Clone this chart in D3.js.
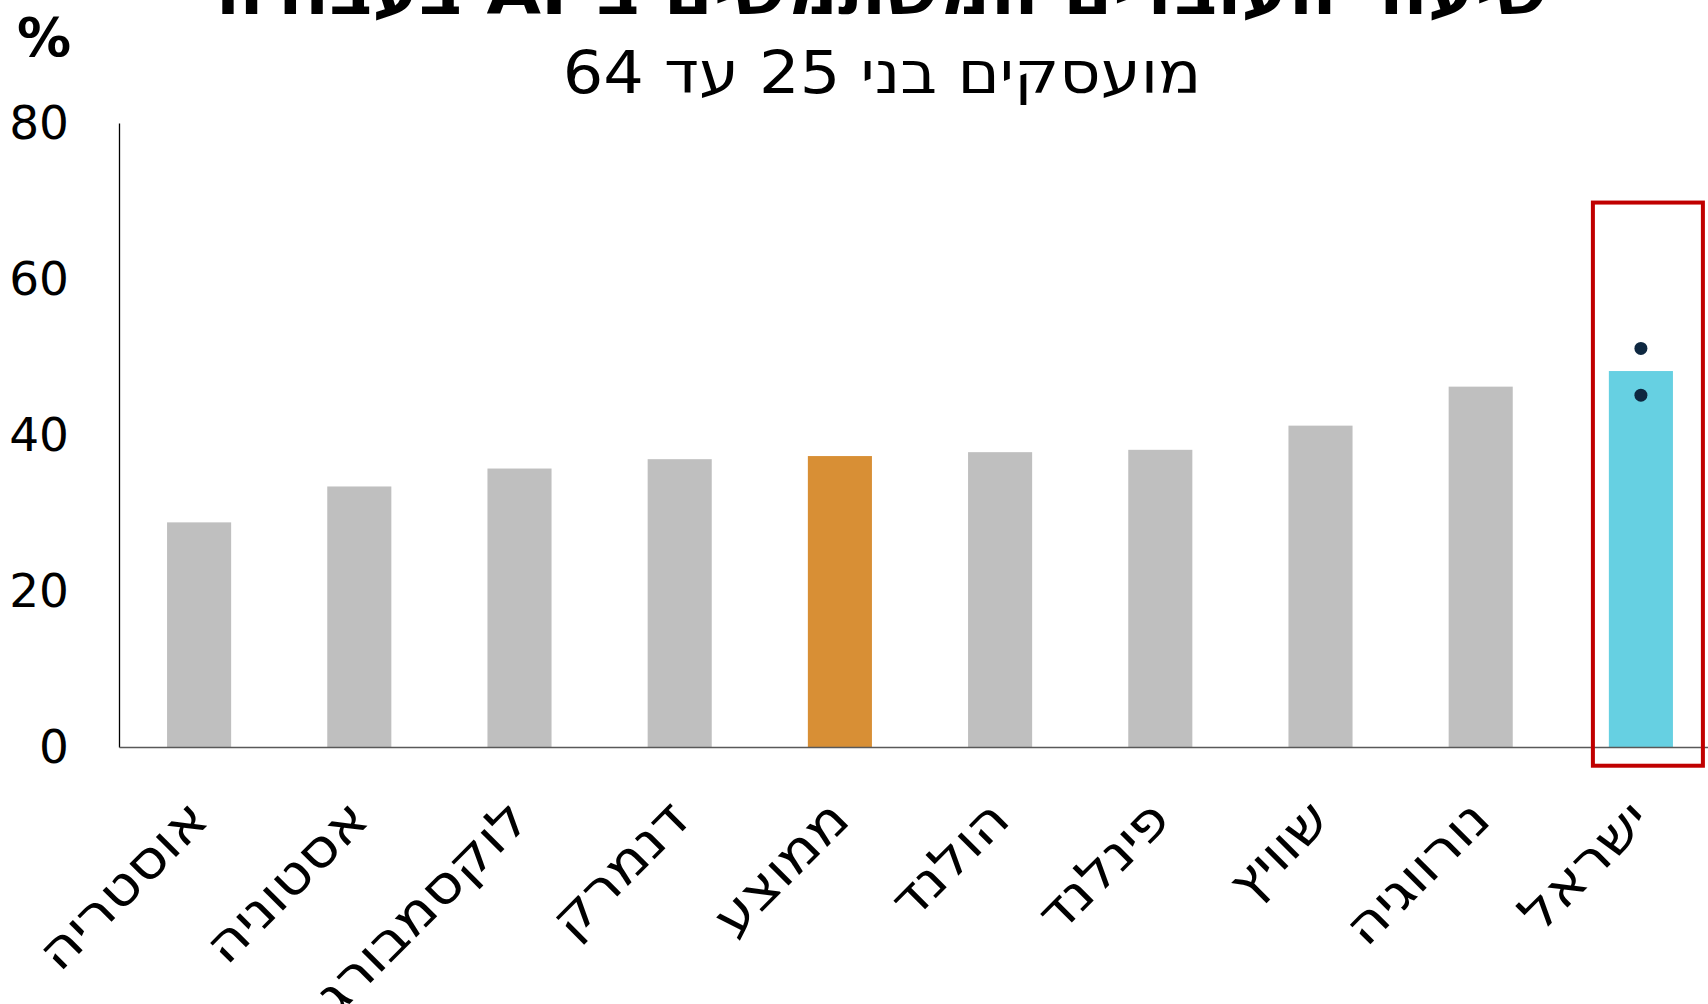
<!DOCTYPE html>
<html lang="he">
<head>
  <meta charset="UTF-8">
  <script src="https://d3js.org/d3.v7.min.js"></script>
  <style>
    body { margin: 0; background: #fff; }
    svg { display: block; font-family: "DejaVu Sans", sans-serif; }
  </style>
</head>
<body>
  <svg width="1708" height="1004"></svg>
  <script>
    // data
    var countries = ["אוסטריה", "אסטוניה", "לוקסמבורג", "דנמרק", "ממוצע", "הולנד", "פינלנד", "שוויץ", "נורווגיה", "ישראל"]
    var values = [28.8, 33.4, 35.7, 36.9, 37.3, 37.8, 38.1, 41.2, 46.2, 48.2]
    var israelDots = [51.1, 45.1]
    var yTicks = [0, 20, 40, 60, 80]

    var svg = d3.select("svg")
    var m = { left: 119, right: 1721, top: 123, bottom: 747 }

    var x = d3.scaleBand()
      .domain(countries)
      .range([m.left, m.right])
      .paddingInner(0.6)
      .paddingOuter(0.3)
    var y = d3.scaleLinear().domain([0, 80]).range([m.bottom, m.top])

    function barColor(d) {
      if (d === "ממוצע") return "#d88f35"
      if (d === "ישראל") return "#66d0e2"
      return "#bfbfbf"
    }

    // bars
    svg.append("g").selectAll("rect")
      .data(countries)
      .enter()
      .append("rect")
      .attr("x", function(d){ return x(d) })
      .attr("width", x.bandwidth())
      .attr("y", function(d, i){ return y(values[i]) })
      .attr("height", function(d, i){ return m.bottom - y(values[i]) })
      .attr("fill", barColor)

    // y axis
    var yAxis = svg.append("g")
      .attr("transform", "translate(" + m.left + ",0)")
      .call(d3.axisLeft(y).tickValues(yTicks).tickSize(0).tickPadding(50))
    yAxis.select(".domain").attr("stroke", "#000").attr("stroke-width", 1.3)
    yAxis.selectAll("text")
      .attr("font-size", 47)
      .attr("font-family", "DejaVu Sans")
      .attr("fill", "#000")

    // x axis
    var xAxis = svg.append("g")
      .attr("transform", "translate(0," + m.bottom + ")")
      .call(d3.axisBottom(x).tickSize(0).tickFormat(""))
    xAxis.select(".domain").attr("stroke", "#595959").attr("stroke-width", 1.5)

    // rotated labels
    svg.append("g").selectAll("text")
      .data(countries)
      .enter()
      .append("text")
      .attr("transform", function(d){
        var cx = x(d) + x.bandwidth() / 2 + 12
        return "translate(" + cx + "," + 822 + ") rotate(-45) scale(1.12,1)"
      })
      .attr("text-anchor", "end")
      .attr("font-size", 52)
      .attr("fill", "#000")
      .text(function(d){ return d })

    // israel dots
    var ix = x("ישראל") + x.bandwidth() / 2
    svg.append("g").selectAll("circle")
      .data(israelDots)
      .enter()
      .append("circle")
      .attr("cx", ix)
      .attr("cy", function(d){ return y(d) })
      .attr("r", 6.5)
      .attr("fill", "#0e2841")

    // highlight box
    svg.append("rect")
      .attr("x", ix - 48)
      .attr("y", y(69.8))
      .attr("width", 110)
      .attr("height", y(-2.4) - y(69.8))
      .attr("fill", "none")
      .attr("stroke", "#c00000")
      .attr("stroke-width", 4)

    // titles
    svg.append("text")
      .attr("transform", "translate(882,14) scale(1.1,1)")
      .attr("direction", "rtl")
      .attr("text-anchor", "middle")
      .attr("font-size", 64)
      .attr("font-weight", "bold")
      .text("שיעור העובדים המשתמשים ב-AI בעבודה")
    svg.append("text")
      .attr("transform", "translate(882,93) scale(1.1,1)")
      .attr("direction", "rtl")
      .attr("text-anchor", "middle")
      .attr("font-size", 58)
      .text("מועסקים בני 25 עד 64")
    svg.append("text")
      .attr("x", 44).attr("y", 56)
      .attr("text-anchor", "middle")
      .attr("font-size", 54)
      .attr("font-weight", "bold")
      .text("%")
  </script>
</body>
</html>
